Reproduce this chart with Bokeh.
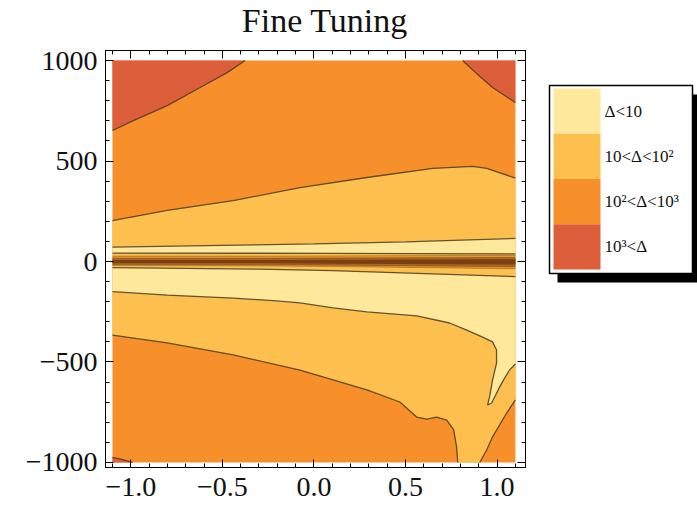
from bokeh.plotting import figure
from bokeh.layouts import row, column
from bokeh.models import Range1d, FixedTicker, LinearAxis
from bokeh.core.properties import value
from bokeh.embed import file_html
from bokeh.resources import INLINE

# ---------------- data ----------------
title_text = "Fine Tuning"
x_min, x_max = -1.1, 1.1
y_min, y_max = -1000, 1000

x_ticks = [-1, -0.5, 0, 0.5, 1]
x_tick_labels = ["\u22121.0", "\u22120.5", "0.0", "0.5", "1.0"]
y_ticks = [-1000, -500, 0, 500, 1000]
y_tick_labels = ["\u22121000", "\u2212500", "0", "500", "1000"]

level_labels = ["\u0394<10", "10<\u0394<10\u00b2", "10\u00b2<\u0394<10\u00b3", "10\u00b3<\u0394"]
level_colors = ["#FEE89C", "#FDC04F", "#F78F2A", "#DC5E3A"]

# Delta = 10^3 contours (red corners)
c1000_tl_x = [-1.1, -0.986, -0.801, -0.621, -0.474, -0.376]
c1000_tl_y = [652, 701, 776, 866, 940, 1000]
c1000_tr_x = [0.812, 0.888, 0.975, 1.1]
c1000_tr_y = [1000, 935, 866, 791]
c1000_bl_x = [-1.1, -1.06, -1.02, -0.99]
c1000_bl_y = [-975, -982, -992, -1000]

# Delta = 10^2 contours
c100_up_x = [-1.1, -0.801, -0.441, -0.076, 0.289, 0.649, 0.866, 0.943, 1.1]
c100_up_y = [204, 254, 303, 368, 418, 463, 473, 463, 415]
c100_lo_l_x = [-1.1, -0.801, -0.441, -0.076, 0.289, 0.469, 0.561, 0.616, 0.670, 0.725, 0.763, 0.779, 0.785]
c100_lo_l_y = [-366, -405, -465, -540, -639, -699, -774, -784, -774, -789, -838, -923, -1000]
c100_lo_r_x = [0.905, 0.943, 0.975, 1.014, 1.052, 1.1]
c100_lo_r_y = [-1000, -938, -873, -813, -754, -689]

# Delta = 10 contours
c10_up_x = [-1.1, -0.5, 0.0, 0.5, 1.1]
c10_up_y = [72, 80, 88, 98, 115]
c10_lo_x = [-1.1, -0.801, -0.441, -0.223, -0.076, 0.104, 0.289, 0.561, 0.741, 0.834,
            0.921, 0.975, 0.997, 0.997, 0.975, 0.959, 0.948, 0.970, 0.992, 1.014,
            1.041, 1.068, 1.1]
c10_lo_y = [-150, -167, -182, -195, -206, -231, -251, -271, -306, -341,
            -376, -400, -440, -505, -590, -674, -714, -704, -664, -624,
            -580, -540, -510]

# narrow bands around y = 0
band_x = [-1.1, -0.3, 0.1, 1.1]
band_gold_top = [42, 41, 40, 38]
band_gold_bot = [-30, -38, -45, -75]
band_orange_top = [27, 27, 28, 31]
band_orange_bot = [-20, -22, -25, -36]
band_brown_top = [16, 16, 18, 20]
band_brown_bot = [-15, -16, -18, -26]
band_dark_top = [8, 8, 9, 11]
band_dark_bot = [-9, -9, -11, -15]
band_colors = ["#FDC04F", "#E8952C", "#AD6620", "#7C3F15"]

SERIF = "Liberation Serif"
LINE_COLOR = "#4a3b22"

# ---------------- title strip ----------------
TITLE_H = 44
tf = figure(width=540, height=TITLE_H, x_range=Range1d(0, 540), y_range=Range1d(0, TITLE_H),
            output_backend="svg", toolbar_location=None,
            x_axis_type=None, y_axis_type=None,
            min_border_left=0, min_border_right=0, min_border_top=0, min_border_bottom=0)
tf.grid.visible = False
tf.outline_line_color = None
tf.text(x=[282], y=[TITLE_H / 2 + 2], text=[title_text], text_font=value(SERIF),
        text_font_size="34px", text_align="center", text_baseline="middle",
        text_color="#111111")

# ---------------- main plot ----------------
p = figure(width=540, height=511 - TITLE_H,
           x_range=Range1d(-1.138, 1.155), y_range=Range1d(-1025, 1050),
           output_backend="svg", toolbar_location=None,
           min_border_left=105, min_border_right=15,
           min_border_top=50 - TITLE_H, min_border_bottom=44)
p.grid.visible = False
p.outline_line_color = "black"
p.background_fill_color = "white"
p.border_fill_color = "white"

# base (10^2 < Delta < 10^3)
p.quad(left=[x_min], right=[x_max], bottom=[y_min], top=[y_max],
       fill_color=level_colors[2], line_color=None)

# red corners
p.patch(c1000_tl_x + [x_min], c1000_tl_y + [y_max], fill_color=level_colors[3], line_color=None)
p.patch(c1000_tr_x + [x_max], c1000_tr_y + [y_max], fill_color=level_colors[3], line_color=None)
p.patch(c1000_bl_x + [x_min], c1000_bl_y + [y_min], fill_color=level_colors[3], line_color=None)

# gold region
gold_x = c100_up_x + c100_lo_r_x[::-1] + c100_lo_l_x[::-1]
gold_y = c100_up_y + c100_lo_r_y[::-1] + c100_lo_l_y[::-1]
p.patch(gold_x, gold_y, fill_color=level_colors[1], line_color=None)

# light region
light_x = c10_up_x + c10_lo_x[::-1]
light_y = c10_up_y + c10_lo_y[::-1]
p.patch(light_x, light_y, fill_color=level_colors[0], line_color=None)

# central bands
p.varea(x=band_x, y1=band_gold_bot, y2=band_gold_top, fill_color=band_colors[0])
p.varea(x=band_x, y1=band_orange_bot, y2=band_orange_top, fill_color=band_colors[1])
p.varea(x=band_x, y1=band_brown_bot, y2=band_brown_top, fill_color=band_colors[2])
p.varea(x=band_x, y1=band_dark_bot, y2=band_dark_top, fill_color=band_colors[3])

# contour lines
main_lines = [
    (c1000_tl_x, c1000_tl_y), (c1000_tr_x, c1000_tr_y), (c1000_bl_x, c1000_bl_y),
    (c100_up_x, c100_up_y), (c100_lo_l_x, c100_lo_l_y), (c100_lo_r_x, c100_lo_r_y),
    (c10_up_x, c10_up_y), (c10_lo_x, c10_lo_y),
    (band_x, band_gold_top), (band_x, band_gold_bot),
]
p.multi_line([l[0] for l in main_lines], [l[1] for l in main_lines],
             line_color=LINE_COLOR, line_alpha=0.85, line_width=1.3)
inner_lines = [band_orange_top, band_orange_bot, band_brown_top, band_brown_bot]
p.multi_line([band_x] * len(inner_lines), inner_lines,
             line_color=LINE_COLOR, line_alpha=0.35, line_width=1)

# axes
x_minor = [round(-1.1 + 0.1 * i, 2) for i in range(23)]
y_minor = [-1000 + 100 * i for i in range(21)]


def style_axis(ax, ticks, minor, labels, show_labels, standoff):
    ax.ticker = FixedTicker(ticks=ticks, minor_ticks=minor)
    ax.major_tick_in = 8
    ax.major_tick_out = 0
    ax.minor_tick_in = 4
    ax.minor_tick_out = 0
    ax.major_tick_line_color = "black"
    ax.minor_tick_line_color = "black"
    ax.axis_line_color = "black"
    ax.major_label_text_font = SERIF
    ax.major_label_standoff = standoff
    ax.major_label_text_color = "#111111"
    if show_labels:
        ax.major_label_overrides = {t: s for t, s in zip(ticks, labels)}
        ax.major_label_text_font_size = "28px"
    else:
        ax.major_label_text_font_size = "0px"
        ax.major_label_text_alpha = 0


style_axis(p.xaxis[0], x_ticks, x_minor, x_tick_labels, True, 10)
style_axis(p.yaxis[0], y_ticks, y_minor, y_tick_labels, True, 8)
top_ax = LinearAxis()
right_ax = LinearAxis()
style_axis(top_ax, x_ticks, x_minor, x_tick_labels, False, 0)
style_axis(right_ax, y_ticks, y_minor, y_tick_labels, False, 0)
p.add_layout(top_ax, "above")
p.add_layout(right_ax, "right")

# ---------------- legend panel ----------------
lg = figure(width=157, height=511, x_range=Range1d(0, 157), y_range=Range1d(511, 0),
            output_backend="svg", toolbar_location=None,
            x_axis_type=None, y_axis_type=None, min_border=0)
lg.grid.visible = False
lg.outline_line_color = None

box_l, box_r, box_t, box_b = 9, 152, 85, 273
shadow_dx, shadow_dy = 8, 9
sw_l, sw_r, sw_t, sw_h = 13, 60, 88, 45.25
lg.quad(left=[box_l + shadow_dx], right=[box_r + shadow_dx],
        top=[box_t + shadow_dy], bottom=[box_b + shadow_dy],
        fill_color="black", line_color=None)
lg.quad(left=[box_l], right=[box_r], top=[box_t], bottom=[box_b],
        fill_color="white", line_color="black", line_width=1.5)
n = len(level_labels)
lg.quad(left=[sw_l] * n, right=[sw_r] * n,
        top=[sw_t + i * sw_h for i in range(n)],
        bottom=[sw_t + (i + 1) * sw_h for i in range(n)],
        fill_color=level_colors, line_color=None)
lg.text(x=[sw_r + 4] * n, y=[sw_t + (i + 0.5) * sw_h for i in range(n)],
        text=level_labels, text_font=value(SERIF), text_font_size="17px",
        text_baseline="middle", text_align="left", text_color="#111111")

layout = row(column(tf, p, spacing=0), lg, spacing=0)
open("out.html", "w").write(file_html(layout, INLINE))
